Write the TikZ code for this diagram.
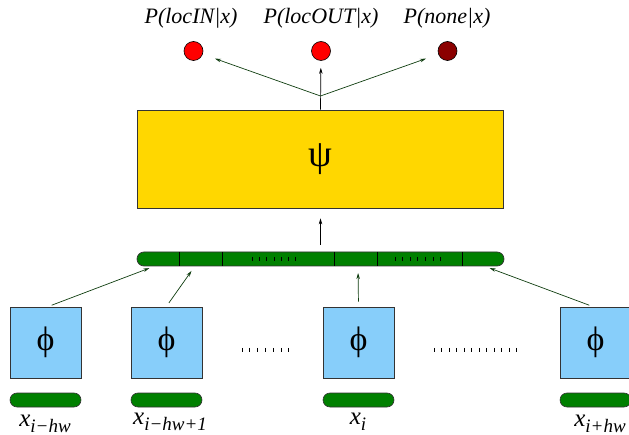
\documentclass[tikz,border=0pt]{standalone}
\usepackage{fontspec}
\setmainfont{Liberation Serif}
\usetikzlibrary{arrows.meta,calc}
\definecolor{gold}{HTML}{FFD700}
\definecolor{skyb}{HTML}{87CEFA}
\definecolor{grn}{HTML}{008000}
\definecolor{dgrn}{HTML}{0F3D0F}
\definecolor{dred}{HTML}{8B0000}
\tikzset{
  circ/.style={circle,draw=black,line width=0.6pt,minimum size=19pt,inner sep=0pt},
  phibox/.style={draw=black!80,line width=0.8pt,fill=skyb,minimum width=71pt,minimum height=71pt,inner sep=0pt,font=\fontsize{34}{34}\selectfont},
  inbar/.style={draw=black!80,line width=0.6pt,fill=grn,rounded corners=7pt,minimum width=71pt,minimum height=14pt,inner sep=0pt},
  arr/.style={draw=dgrn,line width=0.7pt,-{Stealth[length=6pt,width=3.5pt]}},
  lbl/.style={font=\fontsize{22}{22}\selectfont\itshape},
  xl/.style={inner sep=0pt,anchor=base},
  tick/.style={line width=0.7pt}
}
\newcommand{\xsub}[1]{{\fontsize{25}{25}\selectfont\itshape x}\raisebox{-6pt}{\fontsize{19}{19}\selectfont\itshape #1}}
\begin{document}
\begin{tikzpicture}[x=1pt,y=-1pt]
\useasboundingbox (0,0) rectangle (629,435);
% top labels
\node[lbl] (l1) at (191,18) {P(locIN|x)};
\node[lbl] (l2) at (321,18) {P(locOUT|x)};
\node[lbl] (l3) at (447,18) {P(none|x)};
% circles
\node[circ,fill=red] (c1) at (193.5,51) {};
\node[circ,fill=red] (c2) at (321,51) {};
\node[circ,fill=dred] (c3) at (447.5,51) {};
% psi box
\node[draw=black!80,line width=0.8pt,fill=gold,minimum width=366pt,minimum height=98pt,inner sep=0pt,font=\fontsize{38}{38}\selectfont] (psi) at (320,159) {ψ};
\coordinate (br) at (320.5,96);
\draw[line width=0.7pt,-{Stealth[length=6pt,width=3.5pt]},shorten >=7pt] (psi.north -| br) -- (c2);
\draw[arr,shorten >=13pt] (br) -- (c1);
\draw[arr,shorten >=13pt] (br) -- (c3);
% big bar
\node[draw=black!80,line width=0.7pt,fill=grn,rounded corners=7pt,minimum width=367pt,minimum height=14pt,inner sep=0pt] (bar) at (320.5,259) {};
\foreach \dx in {179,222,334,377,462}
  \draw[line width=0.7pt] (\dx,252) -- (\dx,266);
\foreach \k in {0,...,6}
  \draw[tick] (252+\k*7.3,257) -- (252+\k*7.3,261);
\foreach \k in {0,...,6}
  \draw[tick] (395+\k*7.6,257) -- (395+\k*7.6,261);
\draw[line width=0.7pt,-{Stealth[length=6pt,width=3.5pt]},shorten <=7pt,shorten >=10pt] (bar.north -| br) -- (psi.south -| br);
% phi boxes
\node[phibox] (p1) at (45.5,342.5) {ϕ};
\node[phibox] (p2) at (166.5,342.5) {ϕ};
\node[phibox] (p3) at (358.5,342.5) {ϕ};
\node[phibox] (p4) at (595.5,342.5) {ϕ};
% input bars
\node[inbar] (b1) at (45.5,400) {};
\node[inbar] (b2) at (166.5,400) {};
\node[inbar] (b3) at (358.5,400) {};
\node[inbar] (b4) at (595.5,400) {};
% x labels
\node[xl] (x1) at (45,426) {\xsub{i−hw}};
\node[xl] (x2) at (170,424) {\xsub{i−hw+1}};
\node[xl] (x3) at (358,424) {\xsub{i}};
\node[xl] (x4) at (600,426) {\xsub{i+hw}};
% dots
\foreach \k in {0,...,6}
  \draw[tick] (242+\k*7.8,348) -- (242+\k*7.8,352);
\foreach \k in {0,...,11}
  \draw[tick] (434+\k*7.5,348) -- (434+\k*7.5,352);
% arrows to bar
\coordinate (t1) at (155,266);
\coordinate (t2) at (195,266);
\coordinate (t3) at (358,266);
\coordinate (t4) at (484,266);
\draw[arr,shorten <=5pt,shorten >=6pt] (47,307) -- (t1);
\draw[arr,shorten <=5pt,shorten >=6pt] (166,307) -- (t2);
\draw[arr,shorten <=5pt,shorten >=7pt] (p3.north) -- (t3);
\draw[arr,shorten <=5pt,shorten >=6pt] (594,307) -- (t4);
\end{tikzpicture}
\end{document}
